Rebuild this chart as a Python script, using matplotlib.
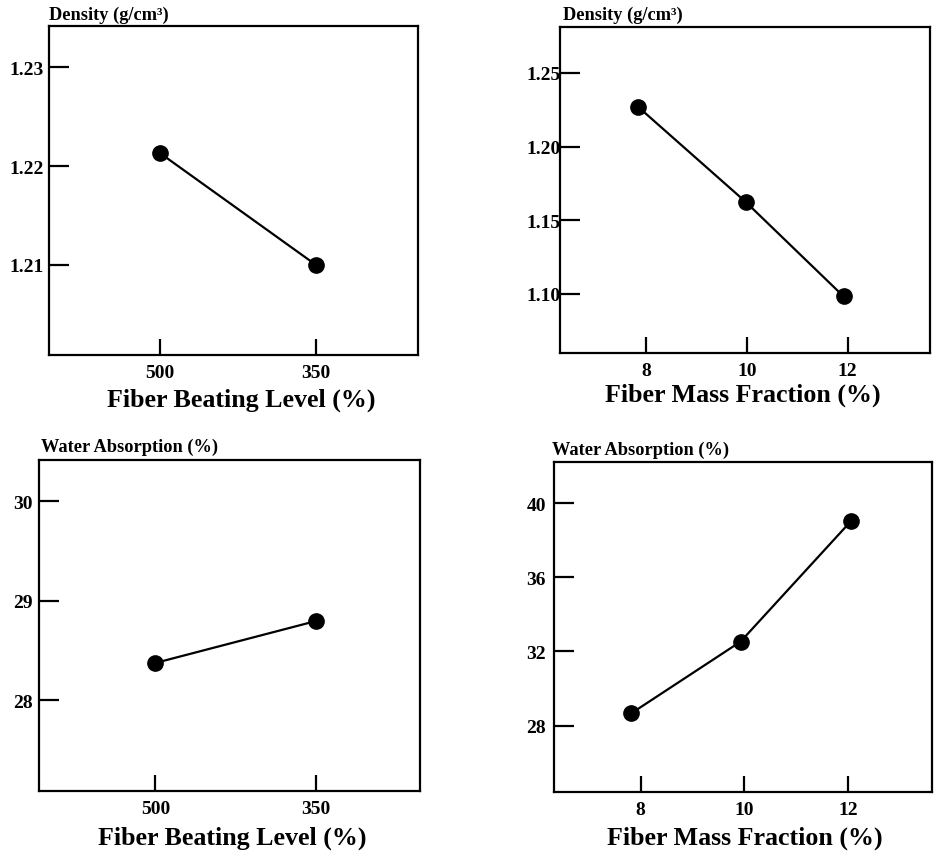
import matplotlib
matplotlib.use("Agg")
import matplotlib.pyplot as plt

plt.rcParams['font.family'] = ['Liberation Serif', 'DejaVu Serif']
plt.rcParams['font.weight'] = 'bold'

# ---- data ----
beating_labels = ['500', '350']
density_beating = [1.2213, 1.2100]
water_beating = [28.376, 28.797]

mass_fraction = [7.83, 9.97, 11.92]
density_mass = [1.2271, 1.1625, 1.0982]
mass_fraction_w = [7.82, 9.93, 12.06]
water_mass = [28.66, 32.53, 39.03]

W, H = 936, 853
fig = plt.figure(figsize=(W / 100, H / 100), dpi=100)

def px_axes(l, r, t, b):
    return fig.add_axes([l / W, 1 - b / H, (r - l) / W, (b - t) / H])

TICK_FS = 14
LABEL_FS = 18.7
TITLE_FS = 13.2

def style(ax, ypad=4):
    for s in ax.spines.values():
        s.set_linewidth(1.6)
    ax.tick_params(axis='y', direction='in', length=14.5, width=1.6, pad=ypad,
                   labelsize=TICK_FS)
    ax.tick_params(axis='x', direction='in', length=11.5, width=1.6, pad=6.5,
                   labelsize=TICK_FS)
    for lab in ax.get_xticklabels() + ax.get_yticklabels():
        lab.set_fontweight('bold')

def line(ax, x, y):
    ax.plot(x, y, color='black', lw=1.6, marker='o', ms=11,
            markerfacecolor='black', markeredgecolor='black')

# Panel 1
ax1 = px_axes(49, 418.3, 26.5, 356)
xb = list(range(len(beating_labels)))
line(ax1, xb, density_beating)
ax1.set_xlim(-0.712, 1.656)
ax1.set_ylim(1.2009, 1.2342)
ax1.set_xticks(xb)
ax1.set_xticklabels(beating_labels)
ax1.set_yticks([1.21, 1.22, 1.23])
ax1.set_yticklabels(['1.21', '1.22', '1.23'])
style(ax1, ypad=4)

# Panel 2
ax2 = px_axes(559.5, 930, 27.5, 354)
line(ax2, mass_fraction, density_mass)
ax2.set_xlim(6.27, 13.64)
ax2.set_ylim(1.0597, 1.2816)
ax2.set_xticks([8, 10, 12])
ax2.set_yticks([1.10, 1.15, 1.20, 1.25])
ax2.set_yticklabels(['1.10', '1.15', '1.20', '1.25'])
style(ax2, ypad=-1)

# Panel 3
ax3 = px_axes(39.3, 420, 461, 792)
line(ax3, xb, water_beating)
ax3.set_xlim(-0.722, 1.647)
ax3.set_ylim(27.091, 30.413)
ax3.set_xticks(xb)
ax3.set_xticklabels(beating_labels)
ax3.set_yticks([28, 29, 30])
style(ax3, ypad=4.5)

# Panel 4
ax4 = px_axes(553.5, 931.7, 463.3, 793.3)
line(ax4, mass_fraction_w, water_mass)
ax4.set_xlim(6.32, 13.62)
ax4.set_ylim(24.40, 42.21)
ax4.set_xticks([8, 10, 12])
ax4.set_yticks([28, 32, 36, 40])
style(ax4, ypad=5.5)

def ftext(x, y, s, fs, ha='left'):
    fig.text(x / W, 1 - y / H, s, fontsize=fs, fontweight='bold',
             ha=ha, va='baseline')

ftext(49.3, 20, 'Density (g/cm³)', TITLE_FS)
ftext(563.3, 20, 'Density (g/cm³)', TITLE_FS)
ftext(40.7, 451.7, 'Water Absorption (%)', TITLE_FS)
ftext(551.7, 455, 'Water Absorption (%)', TITLE_FS)

ftext(241, 406.7, 'Fiber Beating Level (%)', LABEL_FS, ha='center')
ftext(743, 401.7, 'Fiber Mass Fraction (%)', LABEL_FS, ha='center')
ftext(232.5, 845, 'Fiber Beating Level (%)', LABEL_FS, ha='center')
ftext(745, 845, 'Fiber Mass Fraction (%)', LABEL_FS, ha='center')

fig.savefig('out.png', dpi=100)
